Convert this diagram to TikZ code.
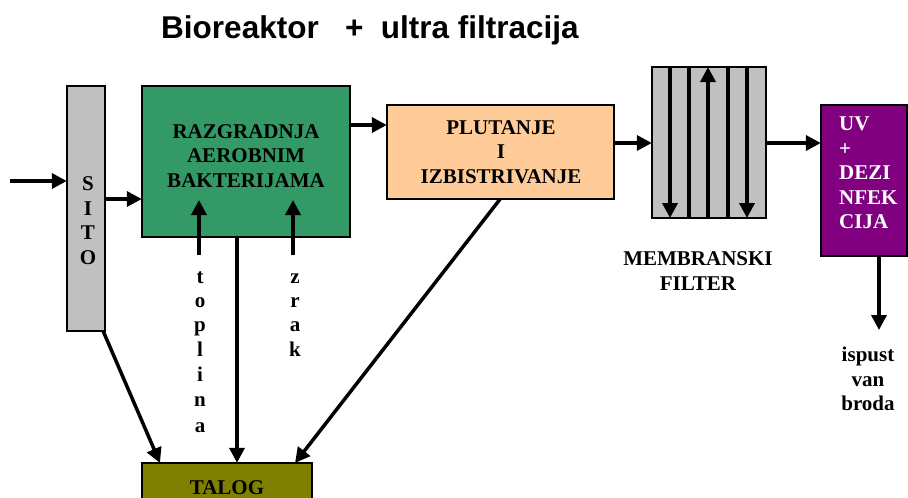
\documentclass[tikz,border=0pt]{standalone}
\usepackage{fontspec}
\setmainfont{Liberation Serif}
\newfontfamily\titlefont{Liberation Sans}
\usetikzlibrary{arrows.meta}
\definecolor{bgreen}{HTML}{339966}
\definecolor{peach}{HTML}{FFCC99}
\definecolor{sgray}{HTML}{C0C0C0}
\definecolor{uvpurple}{HTML}{800080}
\definecolor{olivebox}{HTML}{808000}
\tikzset{
  boxstyle/.style={draw=black, line width=2pt},
  flow/.style={line width=3.5pt, -{Triangle[length=15pt,width=15pt]}},
  plainline/.style={line width=3.5pt},
  lbl/.style={font=\fontsize{21}{24.5}\selectfont\bfseries, align=center, inner sep=0pt},
  letter/.style={font=\fontsize{21}{24.5}\selectfont\bfseries, inner sep=0pt, anchor=base},
}
\begin{document}
\begin{tikzpicture}[x=1pt,y=-1pt]
\useasboundingbox[fill=white] (0,0) rectangle (908,498);
% title
\node[font=\titlefont\fontsize{31.5}{36}\selectfont\bfseries, anchor=base, inner sep=0pt] (title) at (370,38) {Bioreaktor\ \ \ +\ \ ultra filtracija};
% boxes
\path[boxstyle, fill=sgray] (67,86) rectangle (105,331);
\node[inner sep=0pt, minimum width=38pt, minimum height=245pt] (sito) at (86,208.5) {};
\path[boxstyle, fill=bgreen] (142,86) rectangle (350,237);
\node[inner sep=0pt, minimum width=208pt, minimum height=151pt] (bio) at (246,161.5) {};
\path[boxstyle, fill=peach] (387,105) rectangle (614,199);
\node[inner sep=0pt, minimum width=227pt, minimum height=94pt] (plut) at (500.5,152) {};
\path[boxstyle, fill=sgray] (652,67) rectangle (766,218);
\node[inner sep=0pt, minimum width=114pt, minimum height=151pt] (mem) at (709,142.5) {};
\path[boxstyle, fill=uvpurple] (821,105) rectangle (907,256);
\node[inner sep=0pt, minimum width=86pt, minimum height=151pt] (uv) at (864,180.5) {};
\path[boxstyle, fill=olivebox] (142,463) rectangle (312,520);
\node[inner sep=0pt, minimum width=170pt, minimum height=57pt] (talog) at (227,491.5) {};
% texts
\node[lbl] (biotxt) at (246,156) {RAZGRADNJA\\AEROBNIM\\BAKTERIJAMA};
\node[lbl] (pluttxt) at (501,152) {PLUTANJE\\I\\IZBISTRIVANJE};
\node[lbl] (memtxt) at (698,271) {MEMBRANSKI\\FILTER};
\node[letter] (talogtxt) at (227,494) {TALOG};
\node[lbl, align=left, anchor=north west, text=white] (uvtxt) at (839,117) {UV\\+\\DEZI\\NFEK\\CIJA};
\node[lbl] (isp) at (868,379) {ispust\\van\\broda};
% SITO letters
\foreach \ch/\yy [count=\i] in {S/190,I/215,T/239,O/264}
  \node[letter] (sito\i) at (88,\yy) {\ch};
% toplina letters
\foreach \ch/\yy [count=\i] in {t/283,o/307,p/331,l/356,i/381,n/406,a/432}
  \node[letter] (top\i) at (200,\yy) {\ch};
% zrak letters
\foreach \ch/\yy [count=\i] in {z/283,r/307,a/331,k/356}
  \node[letter] (zr\i) at (295,\yy) {\ch};
% coordinates for free ends
\coordinate (in) at (10,181);
\coordinate (topS) at (199,255);
\coordinate (zrS) at (293,255);
\coordinate (uvout) at (879,330);
% connectors
\draw[flow] (in) -- (sito.west |- in);
\draw[flow] (sito.east |- 0,199) -- (bio.west |- 0,199);
\draw[flow] (bio.east |- 0,125) -- (plut.west |- 0,125);
\draw[flow] (plut.east |- 0,143) -- (mem.west |- 0,143);
\draw[flow] (mem.east |- 0,143) -- (uv.west |- 0,143);
\draw[flow] (uv.south -| uvout) -- (uvout);
\draw[flow] (topS) -- (199,200);
\draw[flow] (zrS) -- (293,200);
\draw[flow] (bio.south -| 237,0) -- (talog.north -| 237,0);
\draw[flow] (sito.south east) ++(-2,0) -- (160,463);
\draw[flow] (plut.south -| 500,0) -- (295,463);
% membrane lines
\draw[flow] (670,67) -- (670,218);
\draw[plainline] (689,67) -- (689,218);
\draw[flow] (708,218) -- (708,67);
\draw[plainline] (728,67) -- (728,218);
\draw[flow] (747,67) -- (747,218);
\end{tikzpicture}
\end{document}
